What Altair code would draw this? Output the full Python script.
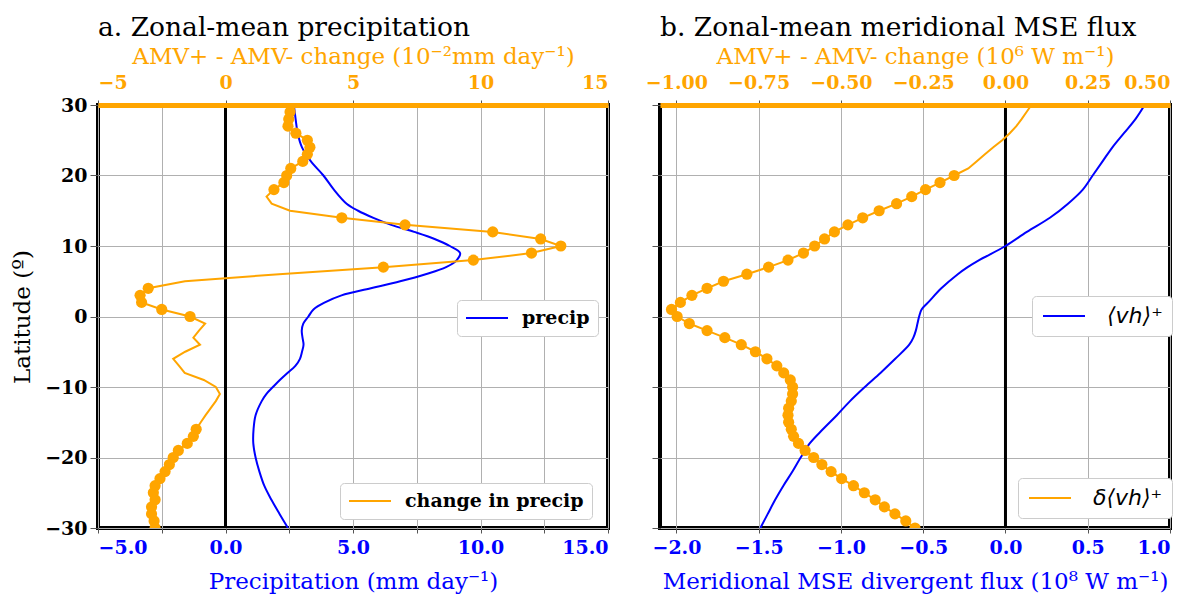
import altair as alt
import pandas as pd

# ---------------- data ----------------
# Panel a: zonal-mean precipitation (mm/day)
lat_precip = [30, 28, 26, 24, 22, 20, 18, 16, 15, 14, 13, 12, 11, 10, 9, 8, 7, 6, 5, 4, 3, 2, 1, 0,
              -1, -2, -3, -4, -5, -6, -7, -8, -9, -10, -11, -12,
              -14, -16, -18, -20, -22, -24, -26, -28, -30]
precip = [2.68, 2.75, 2.83, 3.0, 3.35, 3.84, 4.25, 4.75, 5.2, 5.8, 6.5, 7.4, 8.2, 8.8, 9.2, 9.07, 8.65, 7.85, 6.85, 5.7, 4.55, 3.9, 3.45, 3.25,
          3.05, 2.99, 3.02, 3.06, 3.0, 2.92, 2.74, 2.43, 2.13, 1.86, 1.6, 1.42,
          1.18, 1.1, 1.09, 1.18, 1.33, 1.52, 1.8, 2.12, 2.45]

# Panel a: AMV+ - AMV- change in precipitation (1e-2 mm/day), 1 degree steps 30 -> -30
lat_change = list(range(30, -31, -1))
change = [2.55, 2.53, 2.48, 2.45, 2.76, 3.21, 3.31, 3.21, 3.03, 2.56,
          2.40, 2.29, 1.90, 1.61, 1.81, 2.53, 4.56, 7.04, 10.48, 12.36,
          13.15, 12.0, 9.72, 6.19, 2.1, -1.59, -3.03, -3.35, -3.29, -2.5,
          -1.39, -0.80, -1.04, -1.26, -1.0, -1.58, -2.05, -1.82, -1.6, -0.85,
          -0.38, -0.22, -0.38, -0.58, -0.78, -0.97, -1.15, -1.26, -1.50, -1.85,
          -2.05, -2.2, -2.37, -2.57, -2.76, -2.83, -2.76, -2.9, -2.9, -2.8, -2.76]
change_sig = [1] * 13 + [0] * 3 + [1] * 8 + [0] * 2 + [1] * 5 + [0] * 15 + [1] * 15

# Panel b: meridional MSE divergent flux (1e8 W/m)
lat_mse = [30, 28, 26, 24, 22, 20, 18, 16, 14, 12, 10, 8, 7, 6, 4, 2, 1, 0,
           -1, -2, -3, -4, -6, -8, -10, -12, -14, -16, -18, -20, -22, -24, -26, -28, -30]
mse = [0.846, 0.79, 0.72, 0.65, 0.59, 0.53, 0.47, 0.38, 0.27, 0.13, 0.0, -0.16, -0.23, -0.29, -0.39, -0.47, -0.51, -0.525,
       -0.535, -0.545, -0.56, -0.585, -0.67, -0.76, -0.855, -0.945, -1.025, -1.11, -1.19, -1.245, -1.295, -1.35, -1.40, -1.445, -1.49]

# Panel b: change in MSE flux (1e6 W/m), 1 degree steps 30 -> -30
lat_dmse = list(range(30, -31, -1))
dmse = [0.079, 0.064, 0.049, 0.033, 0.013, -0.010, -0.037, -0.0625, -0.088, -0.113,
        -0.156, -0.199, -0.243, -0.285, -0.331, -0.384, -0.434, -0.479, -0.520, -0.550,
        -0.580, -0.614, -0.661, -0.720, -0.786, -0.857, -0.907, -0.953, -0.988, -1.015,
        -0.998, -0.961, -0.907, -0.853, -0.803, -0.760, -0.725, -0.695, -0.674, -0.654,
        -0.647, -0.647, -0.651, -0.659, -0.661, -0.659, -0.651, -0.644, -0.629, -0.609,
        -0.583, -0.558, -0.530, -0.498, -0.462, -0.429, -0.396, -0.368, -0.336, -0.303, -0.275]
dmse_sig = [0] * 10 + [1] * 51

lat_ticks = [-30, -20, -10, 0, 10, 20, 30]
a_bottom_ticks = [-5.0, -2.5, 0.0, 2.5, 5.0, 7.5, 10.0, 12.5, 15.0]
a_top_ticks = [-5, 0, 5, 10, 15]
b_bottom_ticks = [-2.0, -1.5, -1.0, -0.5, 0.0, 0.5, 1.0]
b_top_ticks = [-1.0, -0.75, -0.5, -0.25, 0.0, 0.25, 0.5]

# ---------------- styling ----------------
SERIF = "DejaVu Serif"
SANS = "DejaVu Sans"
BLUE = "#0000ff"
ORANGE = "#ffa500"
W, H = 510, 423

df_p = pd.DataFrame({"lat": lat_precip, "val": precip, "series": "precip"})
df_c = pd.DataFrame({"lat": lat_change, "val": change, "sig": change_sig, "series": "change in precip"})
df_m = pd.DataFrame({"lat": lat_mse, "val": mse, "series": "⟨vh⟩⁺"})
df_d = pd.DataFrame({"lat": lat_dmse, "val": dmse, "sig": dmse_sig, "series": "δ⟨vh⟩⁺"})
df_zero = pd.DataFrame({"zero": [0.0]})

yscale = alt.Scale(domain=[-30, 30], nice=False, zero=False)


def leg(x, y, math=False):
    return alt.Legend(
        orient="none", legendX=x, legendY=y, title=None,
        symbolType="M-1,0H3.667", symbolSize=324, symbolStrokeWidth=2,
        labelOffset=44 if math else 37, labelLimit=400,
        labelFont=SANS if math else SERIF,
        labelFontStyle="italic" if math else "normal",
        labelFontWeight="normal" if math else "bold",
        labelFontSize=22 if math else 19, labelColor="black",
        fillColor="white", strokeColor="#cccccc", cornerRadius=4,
        padding=9 if math else 8,
    )


def panel(df_main, df_chg, xdom, x2dom, bticks, bfmt, tticks, tfmt,
          btitle, ttitle, leg_main, leg_chg, title, ylabels, math):
    name_main = df_main["series"].iloc[0]
    name_chg = df_chg["series"].iloc[0]
    rule = alt.Chart(df_zero).mark_rule(color="black", strokeWidth=3).encode(
        x=alt.X("zero:Q", scale=alt.Scale(domain=xdom, nice=False, zero=False), axis=None)
    )
    yaxis = alt.Axis(values=lat_ticks, grid=True, labels=ylabels,
                     title="Latitude (º)" if ylabels else None,
                     labelColor="black", titleColor="black",
                     tickSize=8, labelPadding=3, titlePadding=10)
    main = alt.Chart(df_main).mark_line(strokeWidth=2, interpolate="catmull-rom", clip=True).encode(
        x=alt.X("val:Q", scale=alt.Scale(domain=xdom, nice=False, zero=False),
                axis=alt.Axis(orient="bottom", values=bticks, format=bfmt, title=btitle,
                              labelColor=BLUE, titleColor=BLUE, grid=True,
                              tickSize=5, labelPadding=5, titlePadding=13)),
        y=alt.Y("lat:Q", scale=yscale, axis=yaxis),
        order=alt.Order("lat:Q"),
        color=alt.Color("series:N", scale=alt.Scale(domain=[name_main], range=[BLUE]),
                        legend=leg(*leg_main, math=math)),
    )
    chg = alt.Chart(df_chg).mark_line(strokeWidth=2, clip=True).encode(
        x=alt.X("val:Q", scale=alt.Scale(domain=x2dom, nice=False, zero=False),
                axis=alt.Axis(orient="top", values=tticks, format=tfmt, title=ttitle,
                              labelColor=ORANGE, titleColor=ORANGE, grid=False,
                              domain=True, domainColor=ORANGE, domainWidth=5,
                              tickSize=5, labelPadding=8, titlePadding=5, zindex=2)),
        y=alt.Y("lat:Q", scale=yscale, axis=None),
        order=alt.Order("lat:Q"),
        color=alt.Color("series:N", scale=alt.Scale(domain=[name_chg], range=[ORANGE]),
                        legend=leg(*leg_chg, math=math)),
    )
    pts = alt.Chart(df_chg).transform_filter("datum.sig == 1").mark_circle(
        color=ORANGE, size=125, opacity=1, clip=True
    ).encode(
        x=alt.X("val:Q", scale=alt.Scale(domain=x2dom, nice=False, zero=False), axis=None),
        y=alt.Y("lat:Q", scale=yscale, axis=None),
    )
    return alt.layer(rule, main, chg, pts).resolve_scale(
        x="independent", color="independent"
    ).resolve_axis(
        y="independent"
    ).properties(
        width=W, height=H,
        title=alt.TitleParams(title, anchor="start", frame="group", offset=4),
    )


panel_a = panel(df_p, df_c, [-5, 15], [-5, 15], a_bottom_ticks, ".1f", a_top_ticks, "d",
                "Precipitation (mm day⁻¹)", "AMV+ - AMV- change (10⁻²mm day⁻¹)",
                (359, 195), (242, 378),
                "a. Zonal-mean precipitation", True, False)

panel_b = panel(df_m, df_d, [-2.1, 1.0], [-1.05, 0.5], b_bottom_ticks, ".1f", b_top_ticks, ".2f",
                "Meridional MSE divergent flux (10⁸ W m⁻¹)", "AMV+ - AMV- change (10⁶ W m⁻¹)",
                (372, 191), (358, 373),
                "b. Zonal-mean meridional MSE flux", False, True)

chart = alt.hconcat(panel_a, panel_b, spacing=52, bounds="flush").properties(
    padding={"left": 1, "top": 4, "right": 5, "bottom": 0}
).configure_view(
    stroke="black", strokeWidth=4
).configure_axis(
    labelFont=SERIF, titleFont=SERIF, labelFontWeight="bold", labelFontSize=19,
    titleFontSize=23, titleFontWeight="normal", gridColor="#b0b0b0", gridWidth=1,
    gridOpacity=1, tickColor="#555555", tickWidth=1, domain=False,
).configure_title(
    font=SERIF, fontSize=26.5, fontWeight="normal", color="black",
)

chart.save("out.html", embed_options={"renderer": "svg", "actions": False})
